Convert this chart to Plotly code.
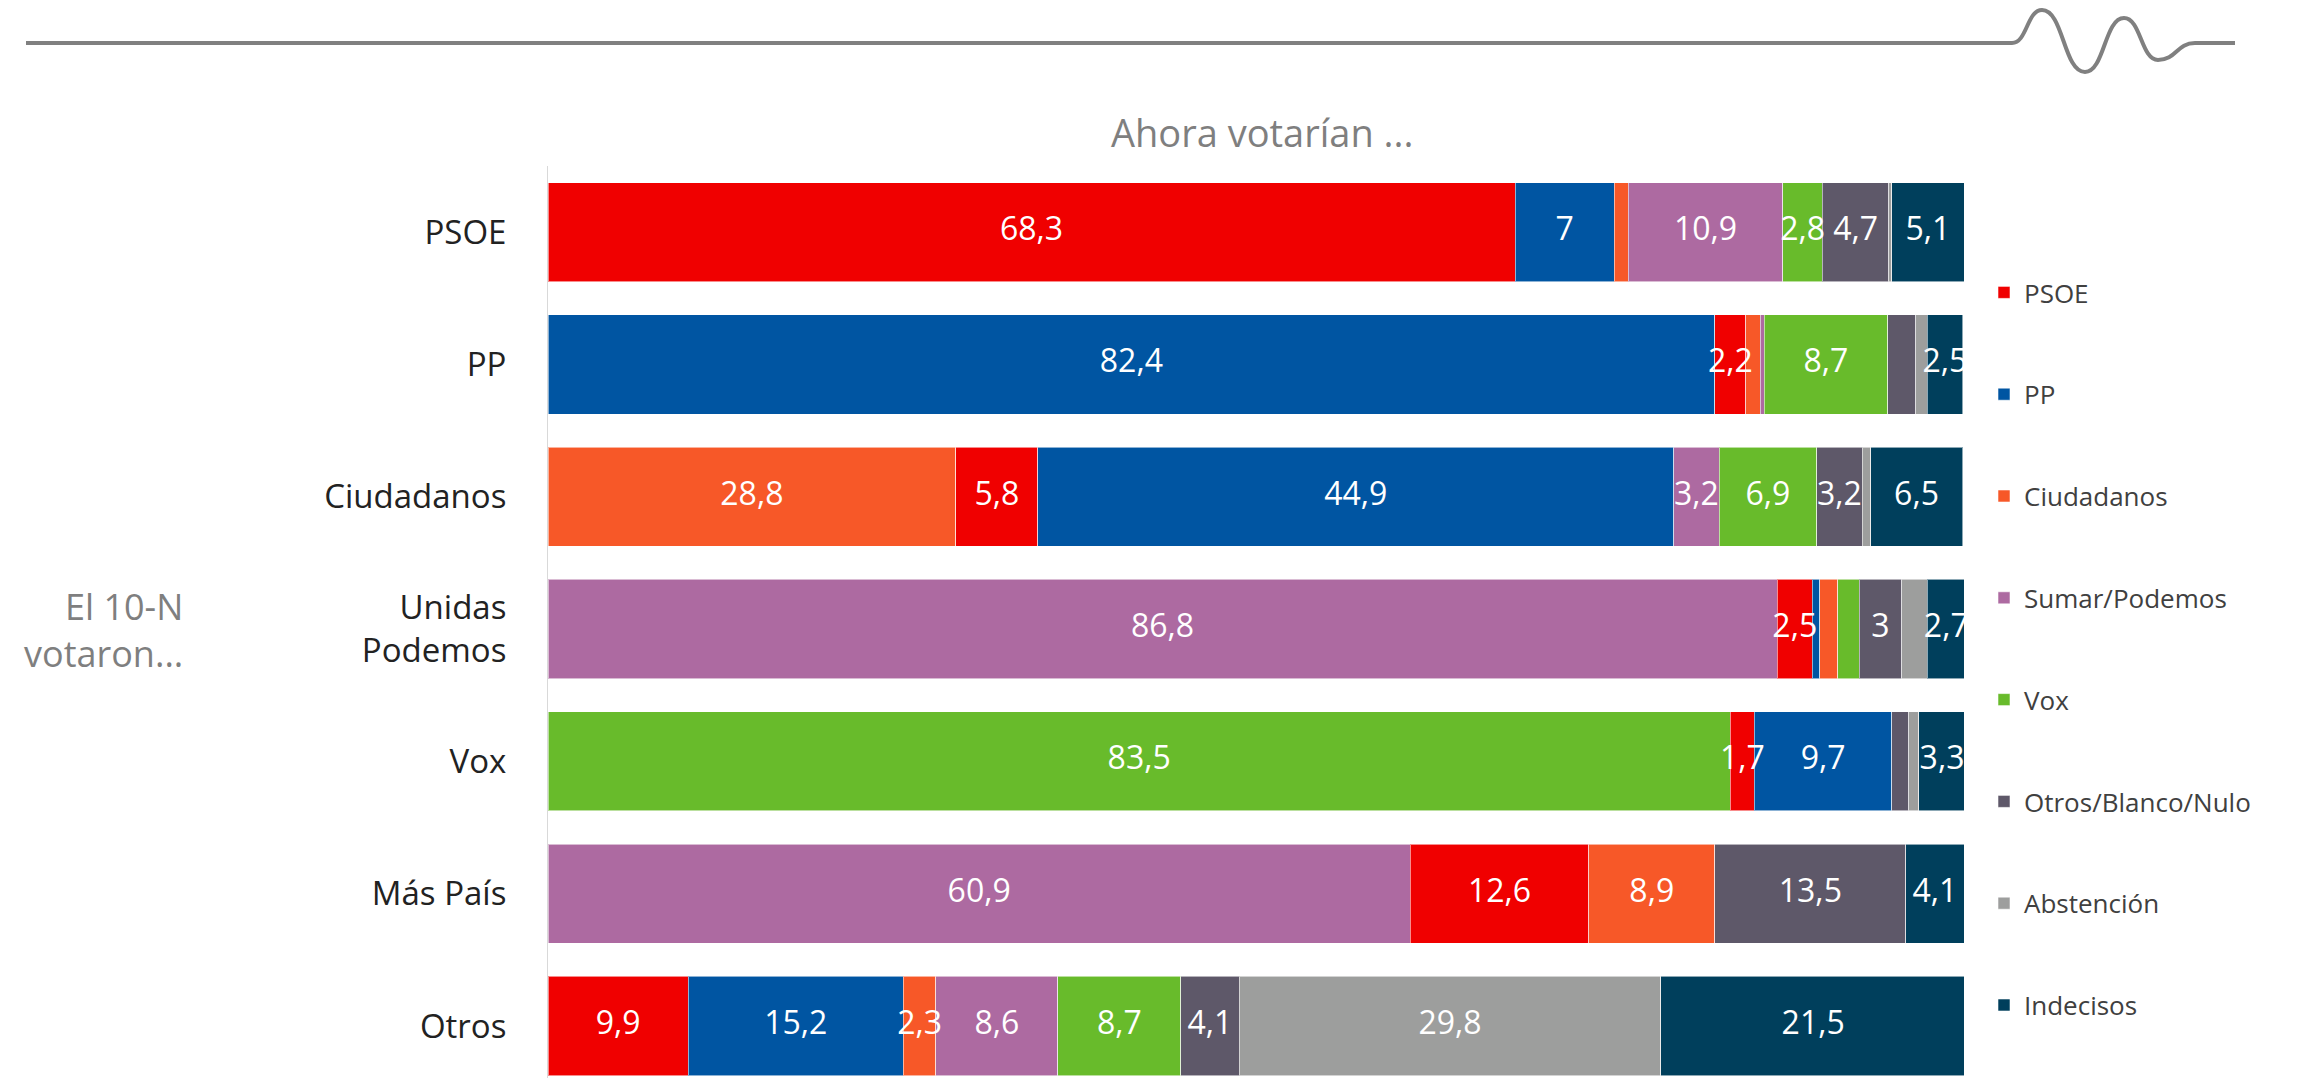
import plotly.graph_objects as go

# ---- data ----
rows = ["PSOE", "PP", "Ciudadanos", "Unidas<br>Podemos", "Vox", "Más País", "Otros"]
series = ["PSOE", "PP", "Ciudadanos", "Sumar/Podemos", "Vox", "Otros/Blanco/Nulo", "Abstención", "Indecisos"]

psoe      = [68.3, 2.2, 5.8, 2.5, 1.7, 12.6, 9.9]
pp        = [7.0, 82.4, 44.9, 0.5, 9.7, 0.0, 15.2]
cs        = [1.0, 1.0, 28.8, 1.3, 0.0, 8.9, 2.3]
sumar     = [10.9, 0.3, 3.2, 86.8, 0.0, 60.9, 8.6]
vox       = [2.8, 8.7, 6.9, 1.5, 83.5, 0.0, 8.7]
otros_bn  = [4.7, 2.0, 3.2, 3.0, 1.2, 13.5, 4.1]
abst      = [0.2, 0.8, 0.6, 1.8, 0.7, 0.0, 29.8]
indecisos = [5.1, 2.5, 6.5, 2.7, 3.3, 4.1, 21.5]

values = [psoe, pp, cs, sumar, vox, otros_bn, abst, indecisos]

# party each row starts with (its own 10-N voters kept first)
own_party = ["PSOE", "PP", "Ciudadanos", "Sumar/Podemos", "Vox", "Sumar/Podemos", None]

# segments whose value label is not printed in the original (series index, row index)
hidden_labels = {(2, 0), (6, 0), (2, 1), (3, 1), (5, 1), (6, 1), (6, 2),
                 (1, 3), (2, 3), (4, 3), (6, 3), (5, 4), (6, 4)}

colors = ["#F00000", "#0055A2", "#F75828", "#AD6AA1", "#68BB2B", "#5E5869", "#9D9E9D", "#003F5C"]

title_text = "Ahora votarían ..."
side_text = "El 10-N<br>votaron..."

# ---- layout geometry (page pixels; the page body has an 8px margin) ----
OFF = 8
W, H = 2302 - 2 * OFF, 1086 - 2 * OFF
PLOT_L, PLOT_R, PLOT_T, PLOT_B = 548, 1964, 166, 1078   # page coordinates
L, T = PLOT_L - OFF, PLOT_T - OFF
R, B = W - (PLOT_R - OFF), H - (PLOT_B - OFF)
PW, PH = W - L - R, H - T - B
ROW_PITCH = 132.3
y_bottom = -0.5 + PH / ROW_PITCH


def px(x):
    return (x - OFF - L) / PW


def py(y):
    return (H - B - (y - OFF)) / PH


def fmt(v):
    s = ("%.1f" % v).rstrip("0").rstrip(".")
    return s.replace(".", ",")


def bar(name, vals, col, show):
    return go.Bar(
        y=rows, x=vals, name=name, orientation="h",
        marker=dict(color=col, line=dict(color="rgba(255,255,255,0.55)", width=1)),
        legendgroup=name, showlegend=show, hoverinfo="x+name",
    )


fig = go.Figure()
# first: each row's own party
for name, vals, col in zip(series, values, colors):
    own_vals = [v if own_party[ri] == name else None for ri, v in enumerate(vals)]
    fig.add_trace(bar(name, own_vals, col, False))
# then the rest, in legend order
for name, vals, col in zip(series, values, colors):
    rest_vals = [None if own_party[ri] == name or v == 0 else v for ri, v in enumerate(vals)]
    fig.add_trace(bar(name, rest_vals, col, True))

# value labels, drawn on top of all bars (centre of each stacked segment)
lx, ly, lt = [], [], []
for ri, row in enumerate(rows):
    order = [series.index(own_party[ri])] if own_party[ri] else []
    order += [si for si in range(len(series)) if si not in order]
    base = 0.0
    for si in order:
        v = values[si][ri]
        if v and (si, ri) not in hidden_labels:
            lx.append(base + v / 2)
            ly.append(row)
            lt.append(fmt(v))
        base += v
fig.add_trace(go.Scatter(x=lx, y=ly, text=lt, mode="text", showlegend=False, hoverinfo="skip",
                         textposition="middle center",
                         textfont=dict(color="white", size=32, family="Open Sans")))

# decorative header line with wave (page coordinates)
pts = [(2012, 43), (2042, 10), (2085, 72), (2124, 18), (2158, 60), (2195, 43)]
path = "M %f,%f L %f,%f" % (px(26), py(43), px(2012), py(43))
for (x0, y0), (x1, y1) in zip(pts[:-1], pts[1:]):
    dx = x1 - x0
    path += " C %f,%f %f,%f %f,%f" % (px(x0 + dx * 0.5), py(y0), px(x1 - dx * 0.5), py(y1), px(x1), py(y1))
path += " L %f,%f" % (px(2235), py(43))

fig.update_layout(
    width=W, height=H,
    margin=dict(l=L, r=R, t=T, b=B, autoexpand=False),
    paper_bgcolor="white", plot_bgcolor="white",
    barmode="stack", bargap=0.25,
    font=dict(family="Open Sans", color="#222222"),
    xaxis=dict(range=[0, 100], visible=False, fixedrange=True),
    yaxis=dict(range=[y_bottom, -0.5], showline=True, linecolor="#D9D9D9", linewidth=1,
               showgrid=False, zeroline=False, ticks="", ticklabelstandoff=34,
               tickfont=dict(size=33, color="#222222", family="Open Sans")),
    legend=dict(x=px(1984), xanchor="left", y=py(269), yanchor="top",
                traceorder="grouped", tracegroupgap=65, itemwidth=30,
                font=dict(size=26, color="#404040", family="Open Sans"),
                bgcolor="rgba(0,0,0,0)"),
    shapes=[dict(type="path", xref="paper", yref="paper", path=path,
                 line=dict(color="#808080", width=4))],
    annotations=[
        dict(text=title_text, xref="paper", yref="paper", x=px(1262), y=py(132),
             xanchor="center", yanchor="middle", showarrow=False,
             font=dict(size=38, color="#7F7F7F", family="Open Sans")),
        dict(text=side_text, xref="paper", yref="paper", x=px(185), y=py(630),
             xanchor="right", yanchor="middle", align="right", showarrow=False,
             font=dict(size=36, color="#7F7F7F", family="Open Sans")),
    ],
)

fig.write_html("out.html")
